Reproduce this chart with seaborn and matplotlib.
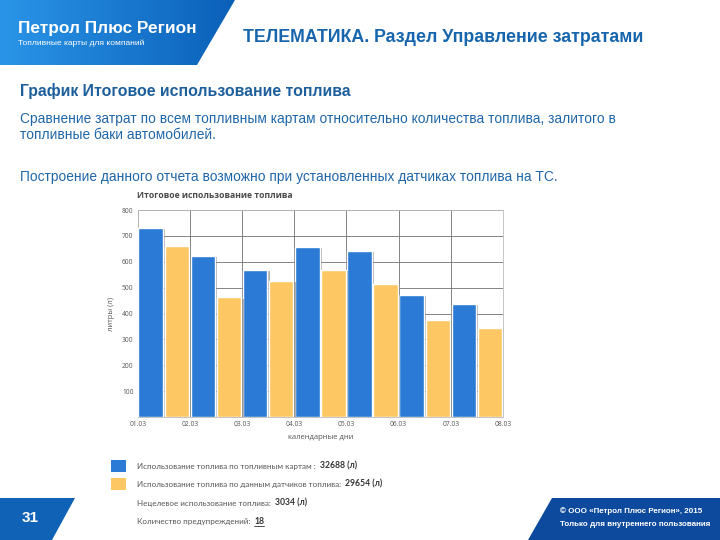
import numpy as np
import pandas as pd
import matplotlib
matplotlib.use("Agg")
import matplotlib.pyplot as plt
import matplotlib.patheffects as pe
from matplotlib.patches import Polygon, Rectangle
import seaborn as sns

# ---- data ----
days = ['01.03', '02.03', '03.03', '04.03', '05.03', '06.03', '07.03', '08.03']
card_usage = [729, 624, 567, 658, 642, 472, 436]
sensor_usage = [662, 462, 525, 567, 513, 376, 343]
series_names = ['Использование топлива по топливным картам',
                'Использование топлива по данным датчиков топлива']
total_card = '32688'
total_sensor = '29654'
total_misuse = '3034'
warnings_count = '18'
y_ticks = [100, 200, 300, 400, 500, 600, 700, 800]

BLUE = '#2b7ad6'
YELLOW = '#fdc864'

sns.set_theme(style='white')
plt.rcParams['font.family'] = ['Liberation Sans', 'DejaVu Sans']

fig = plt.figure(figsize=(7.2, 5.4), dpi=100)
W, H = 720, 540

# background axes in pixel coordinates
bg = fig.add_axes([0, 0, 1, 1])
bg.set_xlim(0, W)
bg.set_ylim(H, 0)
bg.axis('off')

# header band with gradient
hdr = Polygon([(0, 0), (235, 0), (197, 65), (0, 65)], closed=True,
              facecolor='none', edgecolor='none')
bg.add_patch(hdr)
grad = np.linspace(0, 1, 256).reshape(1, -1)
cmap_h = matplotlib.colors.LinearSegmentedColormap.from_list('h', ['#2a95e8', '#0b60b8'])
im = bg.imshow(grad, extent=[0, 235, 65, 0], cmap=cmap_h, aspect='auto', zorder=1)
im.set_clip_path(hdr)
bg.set_xlim(0, W)
bg.set_ylim(H, 0)

bg.text(18, 29, 'Петрол Плюс Регион', color='white', fontsize=12.4,
        fontweight='bold', va='center', ha='left', zorder=3)
bg.text(18, 43, 'Топливные карты для компаний', color='white', fontsize=6,
        va='center', ha='left', zorder=3)
bg.text(243, 37, 'ТЕЛЕМАТИКА. Раздел Управление затратами', color='#1765ad',
        fontsize=12.8, fontweight='bold', va='center', ha='left')

bg.text(20, 91, 'График Итоговое использование топлива', color='#1d5f9c',
        fontsize=11.4, fontweight='bold', va='center', ha='left')
bg.text(20, 119, 'Сравнение затрат по всем топливным картам относительно количества топлива, залитого в',
        color='#1f66a8', fontsize=9.95, va='center', ha='left')
bg.text(20, 135, 'топливные баки автомобилей.', color='#1f66a8', fontsize=9.95,
        va='center', ha='left')
bg.text(20, 177, 'Построение данного отчета возможно при установленных датчиках топлива на ТС.',
        color='#1f66a8', fontsize=9.95, va='center', ha='left')

# chart title
bg.text(137, 195, 'Итоговое использование топлива', color='#4a4a4a', fontsize=6.2,
        fontweight='bold', va='center', ha='left', family=['Open Sans', 'DejaVu Sans'])

# footer shapes
bg.add_patch(Polygon([(0, 498), (75, 498), (52, 540), (0, 540)], closed=True,
                     facecolor='#0f62b6', edgecolor='none'))
bg.add_patch(Polygon([(552, 498), (720, 498), (720, 540), (528, 540)], closed=True,
                     facecolor='#0d4a9d', edgecolor='none'))
bg.text(30, 518, '31', color='white', fontsize=11, fontweight='bold', va='center', ha='center')
bg.text(560, 511, '© ООО «Петрол Плюс Регион», 2015', color='white', fontsize=5.8,
        fontweight='bold', va='center', ha='left')
bg.text(560, 525, 'Только для внутреннего пользования', color='white', fontsize=5.8,
        fontweight='bold', va='center', ha='left')

# legend block
leg_font = ['Lato', 'DejaVu Sans']
bg.add_patch(Rectangle((111, 460), 15, 12, facecolor=BLUE, edgecolor='none'))
bg.add_patch(Rectangle((111, 478), 15, 12, facecolor=YELLOW, edgecolor='none'))
leg_rows = [
    (466, series_names[0] + ' :', total_card + ' (л)'),
    (484, series_names[1] + ':', total_sensor + ' (л)'),
    (503, 'Нецелевое использование топлива:', total_misuse + ' (л)'),
    (521, 'Количество предупреждений:', warnings_count),
]
fig.canvas.draw()
renderer = fig.canvas.get_renderer()
for i, (y, lab, val) in enumerate(leg_rows):
    t = bg.text(137, y + 2.6, lab, color='#555555', fontsize=5.75, va='baseline',
                ha='left', family=leg_font)
    bb = t.get_window_extent(renderer)
    xv = bb.x1 + 4
    tv = bg.text(xv, y + 2.6, val, color='#333333', fontsize=6.2, fontweight='bold',
                 va='baseline', ha='left', family=leg_font)
    if i == 3:
        bbv = tv.get_window_extent(renderer)
        bg.plot([bbv.x0, bbv.x1], [y + 4.5, y + 4.5], color='#333333', lw=0.6)

# ---- chart ----
left, right, top, bottom = 137.7, 503, 210, 417
ax = fig.add_axes([left / W, 1 - bottom / H, (right - left) / W, (bottom - top) / H])

df = pd.DataFrame({
    'day': days[:-1] * 2,
    'series': [series_names[0]] * len(card_usage) + [series_names[1]] * len(sensor_usage),
    'value': card_usage + sensor_usage,
})
sns.barplot(data=df, x='day', y='value', hue='series', palette=[BLUE, YELLOW],
            width=1.0, gap=0.06, legend=False, ax=ax, saturation=1)

shadow = [pe.SimplePatchShadow(offset=(1.6, -0.8), shadow_rgbFace='#555555', alpha=0.45), pe.Normal()]
for p in ax.patches:
    p.set_path_effects(shadow)
    p.set_zorder(3)

ax.set_xlim(-0.5, len(days) - 1.5)
ax.set_ylim(0, 800)
ax.set_xticks(np.arange(len(days)) - 0.5)
ax.set_xticklabels(days)
ax.set_yticks(y_ticks)
ax.set_yticklabels([str(v) for v in y_ticks])
ax.grid(True, color='#707070', lw=0.6, zorder=0)
ax.set_axisbelow(True)
for s in ax.spines.values():
    s.set_color('#bbbbbb')
    s.set_linewidth(0.6)
ax.tick_params(axis='both', length=0, labelsize=4.8, colors='#555555', pad=3)
for lab in ax.get_xticklabels() + ax.get_yticklabels():
    lab.set_family(['Open Sans', 'DejaVu Sans'])
ax.set_xlabel('календарные дни', fontsize=5.5, color='#555555', labelpad=4,
              family=['Open Sans', 'DejaVu Sans'])
ax.set_ylabel('литры (л)', fontsize=5.5, color='#555555', labelpad=5,
              family=['Open Sans', 'DejaVu Sans'])

fig.savefig('out.png', dpi=100)
